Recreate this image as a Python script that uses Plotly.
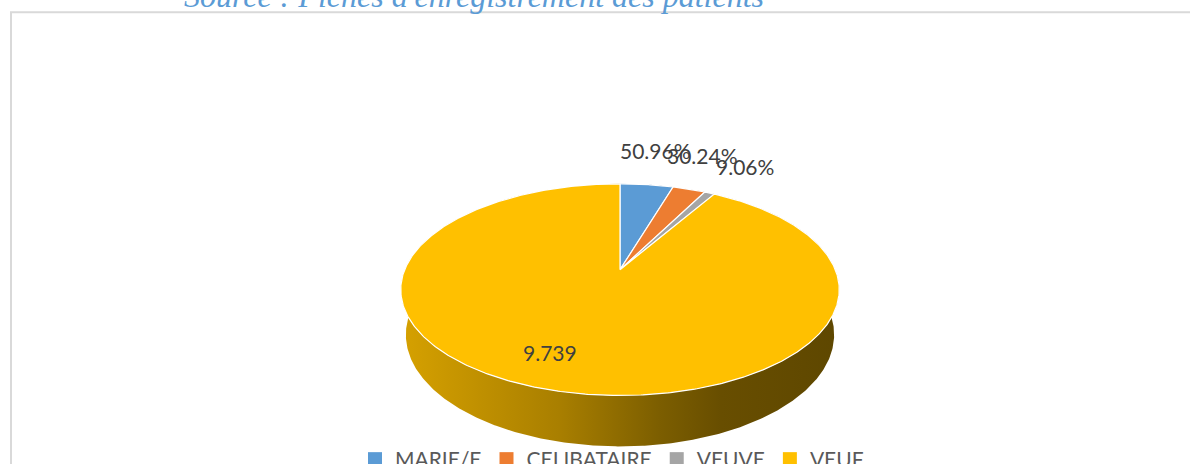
import numpy as np
import plotly.graph_objects as go

# ---------------- data ----------------
categories = ["MARIE/E", "CELIBATAIRE", "VEUVE", "VEUF"]
values = [4.7, 2.9, 0.9, 91.5]
label_texts = ["50.96%", "30.24%", "9.06%", "9.739"]
title_text = "Source : Fiches d'enregistrement des patients"

# ---------------- style ----------------
colors = ["#5B9BD5", "#ED7D31", "#A5A5A5", "#FFC000"]
label_shift = [(9, -33), (13, -33), (35, -26), (-1, -37)]   # label offsets (px) from rim point
W, HGT = 1190, 464          # chart coordinate space (pixels of the target picture)
FIG_H = 480                 # rendered canvas height (captured area is squeezed to 464)

# perspective projection of a tilted 3D disc (pixel units)
CX, CY = 620, 264
K, D = 1012.0, 4.70
S = 0.464
C = np.sqrt(1 - S * S)
THICK = 0.233


def project(theta, z=0.0):
    x = np.sin(theta)
    y = np.cos(theta)
    depth = y * C - z * S + D
    X = CX + K * x / depth
    Y = CY - K * (y * S + z * C) / depth
    return X, Y


def shade(hex_col, f):
    h = hex_col.lstrip("#")
    r, g, b = (int(h[i:i + 2], 16) for i in (0, 2, 4))
    return "rgb(%d,%d,%d)" % (r * f, g * f, b * f)


side_profile = [(0.0, 0.84), (0.36, 0.665), (0.59, 0.49), (0.73, 0.41), (1.0, 0.37)]

vals = np.array(values, dtype=float)
frac = vals / vals.sum()
ends = np.cumsum(frac) * 2 * np.pi
starts = ends - frac * 2 * np.pi

fig = go.Figure()

# side walls (drawn first, covered by top faces at the back)
for i, col in enumerate(colors):
    t = np.linspace(starts[i], ends[i], max(int(np.degrees(ends[i] - starts[i]) * 2), 4))
    xt, yt = project(t, 0.0)
    xb, yb = project(t[::-1], -THICK)
    xs = np.concatenate([xt, xb, xt[:1]])
    ys = np.concatenate([yt, yb, yt[:1]])
    fig.add_trace(go.Scatter(
        x=xs, y=ys, mode="lines", line=dict(width=0), fill="toself",
        fillgradient=dict(type="horizontal",
                          colorscale=[[p, shade(col, f)] for p, f in side_profile]),
        hoverinfo="skip", showlegend=False))

# top faces
for i, col in enumerate(colors):
    t = np.linspace(starts[i], ends[i], max(int(np.degrees(ends[i] - starts[i]) * 2), 4))
    xr, yr = project(t, 0.0)
    xs = np.concatenate([[CX], xr, [CX]])
    ys = np.concatenate([[CY], yr, [CY]])
    fig.add_trace(go.Scatter(
        x=xs, y=ys, mode="lines", line=dict(color="white", width=1.2),
        fill="toself", fillcolor=col, hoverinfo="skip", showlegend=False))

# legend entries
for cat, col in zip(categories, colors):
    fig.add_trace(go.Scatter(
        x=[None], y=[None], mode="markers", name=cat,
        marker=dict(symbol="square", size=14, color=col), showlegend=True))

# data labels
annotations = []
for i, txt in enumerate(label_texts):
    mid = (starts[i] + ends[i]) / 2
    lx, ly = project(mid, 0.0)
    dx, dy = label_shift[i]
    annotations.append(dict(
        x=float(lx + dx), y=float(ly + dy), xref="x", yref="y", text=txt,
        showarrow=False, xanchor="center", yanchor="middle",
        font=dict(family="Lato", size=21, color="#404040")))

# cut-off source caption above chart area
annotations.append(dict(
    x=182 / W, y=1 + 4 / HGT, xref="paper", yref="paper", text=title_text,
    showarrow=False, xanchor="left", yanchor="middle",
    font=dict(family="Liberation Serif", size=32, color="#5B9BD5", style="italic")))

fig.update_layout(
    width=W, height=FIG_H,
    margin=dict(l=0, r=0, t=0, b=0),
    paper_bgcolor="white", plot_bgcolor="white",
    xaxis=dict(range=[0, W], visible=False, fixedrange=True),
    yaxis=dict(range=[HGT, 0], visible=False, fixedrange=True),
    showlegend=True,
    legend=dict(orientation="h", x=612 / W, xanchor="center", y=1 - 450 / HGT,
                yanchor="middle", font=dict(family="Lato", size=21, color="#595959"),
                bgcolor="rgba(0,0,0,0)", itemwidth=30, traceorder="normal"),
    annotations=annotations,
    shapes=[dict(type="rect", xref="x", yref="y", x0=11, y0=12, x1=W + 20, y1=HGT + 20,
                 line=dict(color="#D9D9D9", width=2), fillcolor="rgba(0,0,0,0)",
                 layer="below")],
    hovermode=False,
)

pin_script = (
    "var gd=document.getElementById('{plot_id}');"
    "gd.style.position='fixed';gd.style.left='0px';gd.style.top='0px';"
    "document.body.style.margin='0';"
    "document.documentElement.style.overflow='hidden';"
    "document.body.style.overflow='hidden';"
)

fig.write_html("out.html", config={"displayModeBar": False, "staticPlot": True},
               post_script=pin_script)
